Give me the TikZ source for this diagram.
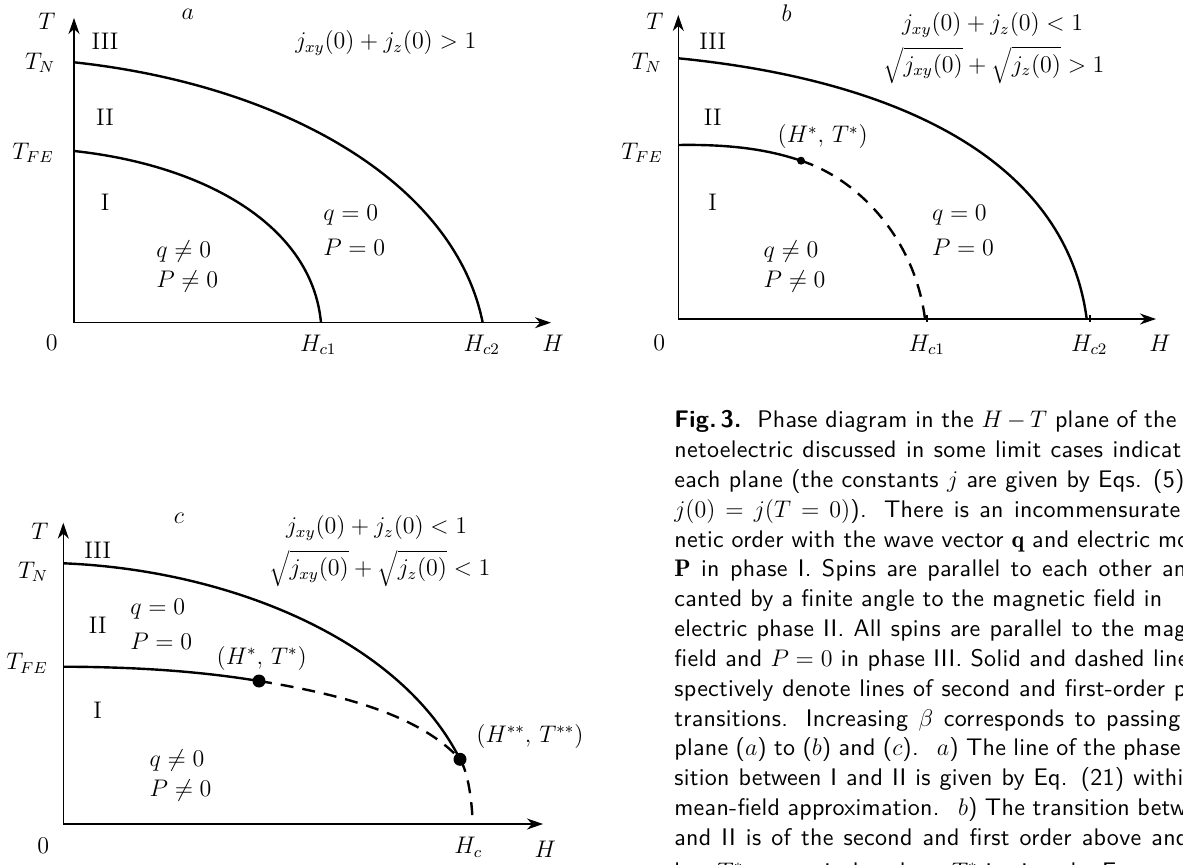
\documentclass[tikz,border=0pt]{standalone}
\usepackage{fontspec}
\newfontfamily\capfont{lmsans10-regular}[Extension=.otf, BoldFont=lmsans10-bold, LetterSpace=1.2]
\usetikzlibrary{arrows.meta}
\tikzset{
  axis/.style={line width=0.7pt, -{Stealth[length=8pt,width=5.5pt,inset=2.5pt]}},
  second/.style={line width=1.2pt},
  first/.style={line width=1.2pt, dash pattern=on 6.5pt off 4.5pt},
  crit/.style={circle, fill, inner sep=0pt, minimum size=#1},
  tick/.style={line width=0.6pt},
  lbl/.style={anchor=west, inner sep=0pt},
  capline/.style={anchor=base west, inner sep=0pt, font=\capfont\fontsize{12}{14}\selectfont},
}
\begin{document}
\begin{tikzpicture}[x=0.5pt, y=-0.5pt, font=\fontsize{12}{14.4}\selectfont, every node/.style={inner sep=1pt}]
\useasboundingbox (0,0) rectangle (1183,865);

% panel a
\coordinate (aO) at (74,322.7);
\coordinate (aTend) at (74,18);
\coordinate (aHend) at (551,322.7);
\coordinate (aN) at (74,62.3);
\coordinate (aFE) at (74,151);
\coordinate (aHc1) at (321,322.7);
\coordinate (aHc2) at (482.7,322.7);
\draw[axis] (aO) -- (aTend);
\draw[axis] (aO) -- (aHend);
\draw[second] (aN) .. controls (284,85) and (454.7,182.7) .. (aHc2);
\draw[second] (aFE) .. controls (204,165) and (312,225) .. (aHc1);
\node (aT) at (47,21.7) {$T$};
\node (aname) at (187.7,14) {$a$};
\node (aIII) at (105,41.7) {III};
\node (aTN) at (40,63) {$T_N$};
\node (aj) at (385.8,43) {$j_{xy}(0)+j_z(0)>1$};
\node (aII) at (105,117) {II};
\node (aTFE) at (33,153) {$T_{FE}$};
\node (aI) at (105,202) {I};
\node[lbl] (aq) at (323,215) {$q=0$};
\node[lbl] (aP) at (323,247) {$P=0$};
\node[lbl] (aqn) at (156,252) {$q\neq0$};
\node[lbl] (aPn) at (156,282) {$P\neq0$};
\node (a0) at (51.7,343) {$0$};
\node (aHc1l) at (318.3,345) {$H_{c1}$};
\node (aHc2l) at (481.7,345) {$H_{c2}$};
\node (aH) at (553,343) {$H$};

% panel b
\coordinate (bO) at (678.3,319);
\coordinate (bTend) at (678.3,15);
\coordinate (bHend) at (1156,319);
\coordinate (bN) at (678.3,58.3);
\coordinate (bFE) at (678.3,145);
\coordinate (bstar) at (801,160.7);
\coordinate (bHc1) at (925,319);
\coordinate (bHc2) at (1086.7,319);
\draw[axis] (bO) -- (bTend);
\draw[axis] (bO) -- (bHend);
\draw[second] (bN) .. controls (898,80) and (1066,160) .. (bHc2);
\draw[second] (bFE) .. controls (740,144) and (775,152) .. (bstar);
\draw[first] (bstar) .. controls (860,180) and (915,240) .. (bHc1);
\node[crit=4pt] (bdot) at (bstar) {};
\draw[tick] (927,315) -- (927,322);
\draw[tick] (1090,315) -- (1090,322);
\node (bT) at (655,21.7) {$T$};
\node (bname) at (786.7,13.3) {$b$};
\node (bIII) at (712.7,41.7) {III};
\node (bTN) at (646.7,63) {$T_N$};
\node (bj1) at (992.7,25) {$j_{xy}(0)+j_z(0)<1$};
\node (bj2) at (994,65) {$\sqrt{j_{xy}(0)}+\sqrt{j_z(0)}>1$};
\node (bII) at (712.7,117) {II};
\node (bstarl) at (822.7,137) {$(H^*,\,T^*)$};
\node (bTFE) at (642,153) {$T_{FE}$};
\node (bI) at (712.7,202) {I};
\node[lbl] (bqn) at (763.3,252) {$q\neq0$};
\node[lbl] (bPn) at (763.3,282) {$P\neq0$};
\node[lbl] (bq) at (931.7,215) {$q=0$};
\node[lbl] (bP) at (931.7,247) {$P=0$};
\node (b0) at (659.3,343) {$0$};
\node (bHc1l) at (926.7,345) {$H_{c1}$};
\node (bHc2l) at (1089.3,345) {$H_{c2}$};
\node (bH) at (1160,343) {$H$};

% panel c
\coordinate (cO) at (63.3,824);
\coordinate (cTend) at (63.3,522.7);
\coordinate (cHend) at (543,824);
\coordinate (cN) at (63.3,563.3);
\coordinate (cFE) at (63.3,666.7);
\coordinate (cstar) at (259,681);
\coordinate (cstar2) at (460,759.3);
\coordinate (cHc) at (472.7,824);
\draw[axis] (cO) -- (cTend);
\draw[axis] (cO) -- (cHend);
\draw[second] (cN) .. controls (230,570) and (400,640) .. (cstar2);
\draw[second] (cFE) .. controls (150,667) and (210,673) .. (cstar);
\draw[first] (cstar) .. controls (340,694) and (420,715) .. (cstar2)
  .. controls (468,772) and (472,800) .. (cHc);
\node[crit=6.5pt] (cdot) at (cstar) {};
\node[crit=6.5pt] (cdot2) at (cstar2) {};
\node (cT) at (40,531.7) {$T$};
\node (cname) at (179,518.3) {$c$};
\node (cIII) at (97.7,550) {III};
\node (cTN) at (33,571.7) {$T_N$};
\node (cj1) at (376.7,528.3) {$j_{xy}(0)+j_z(0)<1$};
\node (cj2) at (380,568.3) {$\sqrt{j_{xy}(0)}+\sqrt{j_z(0)}<1$};
\node[lbl] (cq) at (130,609.3) {$q=0$};
\node[lbl] (cP) at (130,641) {$P=0$};
\node (cII) at (97.7,625) {II};
\node (cTFE) at (27,663.3) {$T_{FE}$};
\node (cstarl) at (261.7,658.3) {$(H^*,\,T^*)$};
\node (cI) at (97.7,710) {I};
\node (cstar2l) at (530,736.7) {$(H^{**},\,T^{**})$};
\node[lbl] (cqn) at (149.3,760) {$q\neq0$};
\node[lbl] (cPn) at (149.3,790) {$P\neq0$};
\node (c0) at (43.3,846) {$0$};
\node (cHcl) at (468.3,847) {$H_c$};
\node (cH) at (545.3,849) {$H$};

% caption, cut by the page edge
\begin{scope}
\clip (0,0) rectangle (1183,865);
\foreach \w/\txt [count=\k from 0] in {
  251/{\textbf{Fig.\,3.}\ \ Phase diagram in the $H-T$ plane of the},
  253.5/{netoelectric discussed in some limit cases indicat},
  255/{each plane (the constants $j$ are given by Eqs. (5)},
  253/{$j(0)=j(T=0)$). There is an incommensurate},
  257.5/{netic order with the wave vector $\mathbf{q}$ and electric mo},
  256/{$\mathbf{P}$ in phase I. Spins are parallel to each other an},
  244/{canted by a finite angle to the magnetic field in},
  256/{electric phase II. All spins are parallel to the mag},
  257/{field and $P=0$ in phase III. Solid and dashed line},
  256/{spectively denote lines of second and first-order p},
  253/{transitions. Increasing $\beta$ corresponds to passing},
  253/{plane ($a$) to ($b$) and ($c$). \ $a$) The line of the phase},
  254.5/{sition between I and II is given by Eq. (21) withi},
  256/{mean-field approximation. \ $b$) The transition betw},
  257/{and II is of the second and first order above and}}
  \node[capline] (cap\k) at (674,428+29.8*\k) {\makebox[\w pt][s]{\txt}};
\node[capline] (cap15) at (674,879) {low $T^*$ respectively, where $T^*$ is given by Eq};
\end{scope}
\end{tikzpicture}
\end{document}
